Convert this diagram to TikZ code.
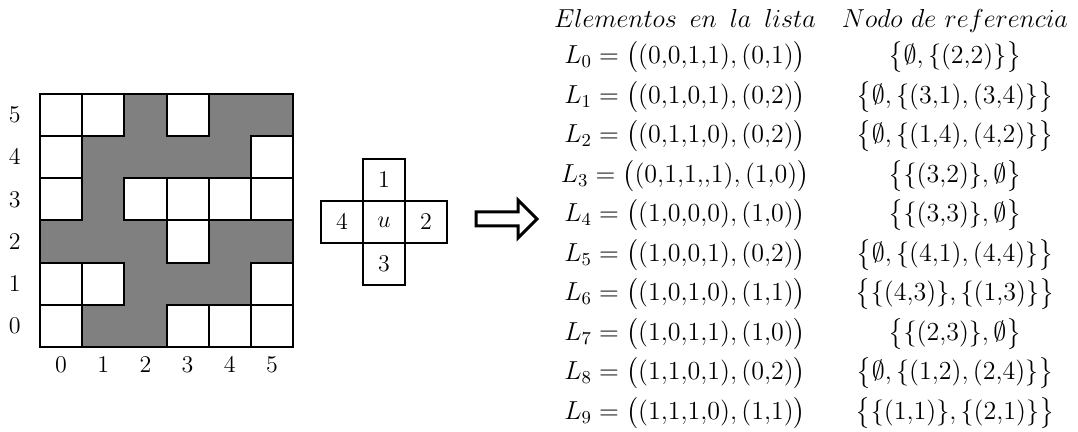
\RequirePackage{fix-cm}
\documentclass[tikz,border=0pt]{standalone}
\usepackage{amsmath,amssymb}
\usetikzlibrary{positioning}

\begin{document}
\begin{tikzpicture}[x=0.5pt,y=-0.5pt,semithick,
  cell/.style={draw,line width=0.8pt,minimum size=21pt,inner sep=0pt,outer sep=0pt,font=\fontsize{12}{14}\selectfont},
  lbl/.style={font=\fontsize{12}{14}\selectfont},
  entry/.style={anchor=base,inner sep=0pt,font=\fontsize{13}{15}\selectfont}]
  \useasboundingbox (0,0) rectangle (1078,432);
  % map with free and blocked cells
  \begin{scope}[shift={(40,347)},x=21.085pt,y=21.085pt,line width=1pt]
    \fill[gray] (0,0) rectangle (6,6);
    \foreach \c/\r in {0/5,1/5,3/5,0/4,5/4,0/3,2/3,3/3,4/3,5/3,3/2,0/1,1/1,5/1,0/0,3/0,4/0,5/0}
      \draw[fill=white] (\c,\r) rectangle ++(1,1);
    \draw (0,0) rectangle (6,6);
    \foreach \i in {0,...,5} {
      \node[lbl] (row\i) at (-0.6,\i+0.5) {$\i$};
      \node[lbl] (col\i) at (\i+0.5,-0.43) {$\i$};
    }
  \end{scope}
  % neighbourhood of u
  \node[cell] (u) at (384,222) {$u$};
  \node[cell,above=0pt of u] (n1) {$1$};
  \node[cell,right=0pt of u] (n2) {$2$};
  \node[cell,below=0pt of u] (n3) {$3$};
  \node[cell,left=0pt of u] (n4) {$4$};
  % hollow arrow
  \coordinate (arr) at (476,212);
  \draw[line width=1.5pt] (arr) -- ++(42,0) -- ++(0,-12) -- ++(19,19)
    -- ++(-19,19) -- ++(0,-12) -- ++(-42,0) -- cycle;
  % list table
  \node[entry] (head1) at (685,28) {$Elementos\hspace{0.5em}en\hspace{0.5em}la\hspace{0.5em}lista$};
  \node[entry] (head2) at (955,28) {$Nodo\ de\ referencia$};
  \foreach \i/\lhs/\rhs in {
    0/{\big((0{,}0{,}1{,}1), (0{,}1)\big)}/{\big\{\emptyset, \{(2{,}2)\}\big\}},
    1/{\big((0{,}1{,}0{,}1), (0{,}2)\big)}/{\big\{\emptyset, \{(3{,}1), (3{,}4)\}\big\}},
    2/{\big((0{,}1{,}1{,}0), (0{,}2)\big)}/{\big\{\emptyset, \{(1{,}4), (4{,}2)\}\big\}},
    3/{\big((0{,}1{,}1{,}{,}1), (1{,}0)\big)}/{\big\{\{(3{,}2)\}, \emptyset\big\}},
    4/{\big((1{,}0{,}0{,}0), (1{,}0)\big)}/{\big\{\{(3{,}3)\}, \emptyset\big\}},
    5/{\big((1{,}0{,}0{,}1), (0{,}2)\big)}/{\big\{\emptyset, \{(4{,}1), (4{,}4)\}\big\}},
    6/{\big((1{,}0{,}1{,}0), (1{,}1)\big)}/{\big\{\{(4{,}3)\}, \{(1{,}3)\}\big\}},
    7/{\big((1{,}0{,}1{,}1), (1{,}0)\big)}/{\big\{\{(2{,}3)\}, \emptyset\big\}},
    8/{\big((1{,}1{,}0{,}1), (0{,}2)\big)}/{\big\{\emptyset, \{(1{,}2), (2{,}4)\}\big\}},
    9/{\big((1{,}1{,}1{,}0), (1{,}1)\big)}/{\big\{\{(1{,}1)\}, \{(2{,}1)\}\big\}}} {
    \node[entry] (L\i) at (685,{64+39.5*\i}) {$L_{\i} = \lhs$};
    \node[entry] (R\i) at (955,{64+39.5*\i}) {$\rhs$};
  }
\end{tikzpicture}
\end{document}
